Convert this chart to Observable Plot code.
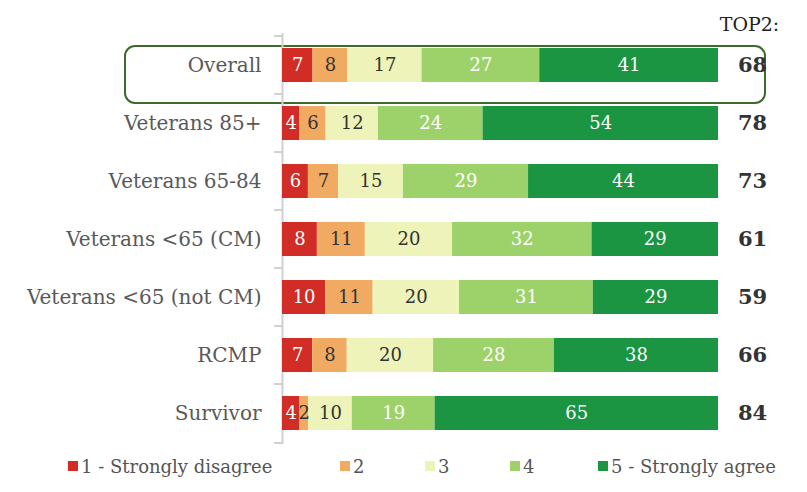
<!DOCTYPE html>
<html><head><meta charset="utf-8">
<script src="https://cdn.jsdelivr.net/npm/d3@7"></script>
<script src="https://cdn.jsdelivr.net/npm/@observablehq/plot@0.6"></script>
<style>
body{margin:0;background:#fff;font-family:"DejaVu Serif",serif;}
#legend{display:flex;height:28px;align-items:center;font-size:18px;color:#555;position:relative;}
.li{position:absolute;display:flex;align-items:center;}
.sw{width:10px;height:10px;margin-right:3px;}
</style></head>
<body><div id="chart"></div><div id="legend"></div>
<script>
const categories = ["Overall","Veterans 85+","Veterans 65-84","Veterans <65 (CM)","Veterans <65 (not CM)","RCMP","Survivor"];
const levels = ["1 - Strongly disagree","2","3","4","5 - Strongly agree"];
const colors = ["#d12c25","#f0aa62","#eef4b9","#9dd169","#1b9542"];
const s1 = [7,4,6,8,10,7,4];
const s2 = [8,6,7,11,11,8,2];
const s3 = [17,12,15,20,20,20,10];
const s4 = [27,24,29,32,31,28,19];
const s5 = [41,54,44,29,29,38,65];
const top2 = [68,78,73,61,59,66,84];

const series=[s1,s2,s3,s4,s5];
const data=[];
categories.forEach((c,i)=>levels.forEach((l,j)=>data.push({cat:c,level:l,value:series[j][i],j})));
const topData=categories.map((c,i)=>({cat:c,v:top2[i]}));

const W=807,H=452,mT=33,mB=8,mL=282,mR=89;
const pin=0.42,pout=0.2;
const step=(H-mT-mB)/(categories.length-pin+2*pout);
const bounds=categories.map(c=>({cat:c,off:-step/2})).concat([{cat:categories[categories.length-1],off:step/2}]);

const stackOpts={x:"value",y:"cat",fill:"level",order:levels,offset:"normalize"};
const chart=Plot.plot({
  width:W,height:H,marginTop:mT,marginBottom:mB,marginLeft:mL,marginRight:mR,
  style:{fontFamily:"DejaVu Serif, serif",background:"#fff"},
  x:{domain:[0,1],axis:null},
  y:{domain:categories,paddingInner:pin,paddingOuter:pout,axis:null},
  color:{domain:levels,range:colors},
  marks:[
    Plot.rect(["Overall"],{y:d=>d,x1:()=>0,x2:()=>1,insetLeft:-157,insetRight:-47,insetTop:-2,insetBottom:-21,rx:10,fill:"none",stroke:"#3d6b2c",strokeWidth:2}),
    Plot.ruleX([0],{stroke:"#d0d0d0",strokeWidth:2}),
    ...bounds.map(b=>Plot.ruleY([b],{y:"cat",x1:-0.018,x2:0,dy:b.off,stroke:"#d0d0d0",strokeWidth:2,clip:false})),
    Plot.barX(data,Plot.stackX(stackOpts)),
    Plot.text(data,Plot.stackX({...stackOpts,text:"value",fill:d=>(d.j===1||d.j===2)?"#333":"#fff",fontSize:18})),
    Plot.text(categories,{y:d=>d,x:()=>0,text:d=>d,textAnchor:"end",dx:-21,fill:"#595959",fontSize:20}),
    Plot.text(topData,{y:"cat",x:()=>1,text:"v",dx:34,fontWeight:"bold",fill:"#333",fontSize:21}),
    Plot.text(["TOP2:"],{frameAnchor:"top-right",dx:31,dy:-16,textAnchor:"middle",fill:"#222",fontSize:19})
  ]
});
document.getElementById("chart").appendChild(chart);
const pos=[68,340,425,510,598];
const lg=document.getElementById("legend");
levels.forEach((l,i)=>{const d=document.createElement("div");d.className="li";d.style.left=pos[i]+"px";
 d.innerHTML=`<span class="sw" style="background:${colors[i]}"></span><span>${l}</span>`;lg.appendChild(d);});
</script></body></html>
